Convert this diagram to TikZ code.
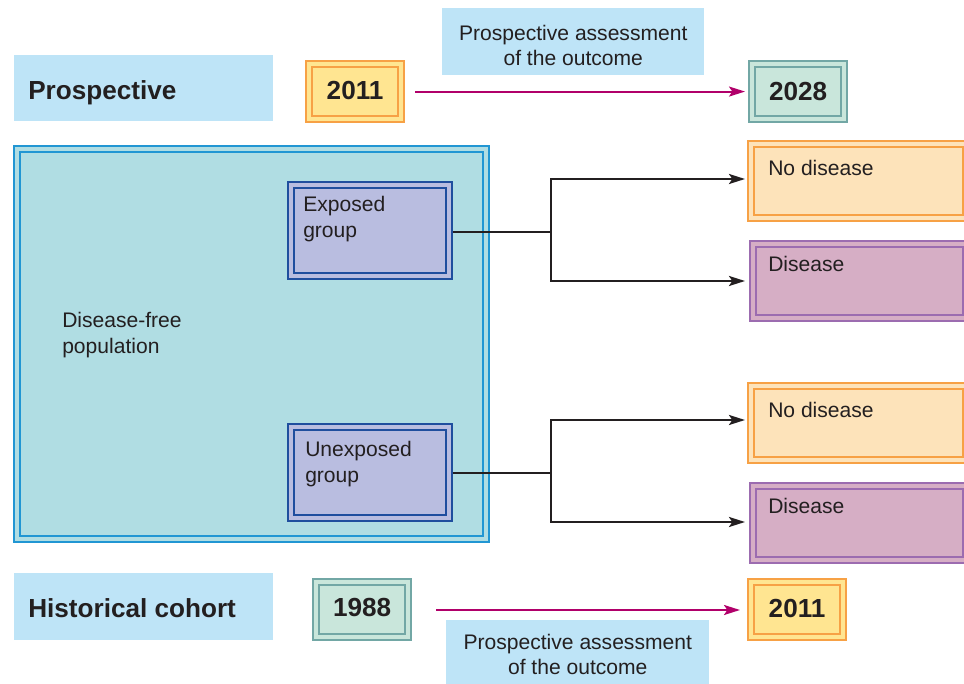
\documentclass[tikz,border=0pt]{standalone}
\usepackage{fontspec}
\setmainfont{Liberation Sans}
\usetikzlibrary{arrows.meta}
\definecolor{lblue}{HTML}{BEE4F7}
\definecolor{orgB}{HTML}{F7A145}
\definecolor{yrF}{HTML}{FFE591}
\definecolor{ndF}{HTML}{FDE3BA}
\definecolor{tealB}{HTML}{72A7A5}
\definecolor{tealF}{HTML}{C9E6DB}
\definecolor{popF}{HTML}{B0DDE3}
\definecolor{popB}{HTML}{2196D3}
\definecolor{grpB}{HTML}{1F4E9E}
\definecolor{grpF}{HTML}{B9BDE0}
\definecolor{purB}{HTML}{9C6CB0}
\definecolor{purF}{HTML}{D6AEC5}
\definecolor{mag}{HTML}{B1006A}
\definecolor{txt}{HTML}{231F20}
\tikzset{
  dbox/.style n args={4}{draw=#1, fill=#2, line width=1.6pt, rectangle, inner sep=0pt,
    minimum width=#3, minimum height=#4, anchor=north west,
    path picture={\draw[#1, line width=0.9pt]
      ([shift={(4.5pt,4.5pt)}]path picture bounding box.south west) rectangle
      ([shift={(-4.5pt,-4.5pt)}]path picture bounding box.north east);}},
  lbl/.style={fill=lblue, rectangle, inner sep=0pt, anchor=north west},
  bigtxt/.style={font=\fontsize{19.6pt}{23pt}\selectfont\bfseries, text=txt, inner sep=0pt},
  smtxt/.style={font=\fontsize{15.8pt}{19.5pt}\selectfont, text=txt, inner sep=0pt, align=left},
  ctrtxt/.style={font=\fontsize{15.8pt}{19pt}\selectfont, text=txt, inner sep=0pt, align=center},
  blk/.style={draw=txt, line width=1.7pt},
  arr/.style={-{Stealth[length=12pt,width=7.5pt,inset=2.5pt]}},
  magarr/.style={draw=mag, line width=1.5pt, -{Stealth[length=12pt,width=7.5pt,inset=2.5pt]}},
}
\begin{document}
\begin{tikzpicture}[x=0.75pt,y=-0.75pt]
\useasboundingbox (0,0) rectangle (964,684);
\clip (0,0) rectangle (964,684);
% top row
\node[lbl, minimum width=259*0.75pt, minimum height=66*0.75pt] (prosp) at (14,55) {};
\node[bigtxt, anchor=west] (prospT) at (28,92.5) {Prospective};
\node[dbox={orgB}{yrF}{98*0.75pt}{61*0.75pt}] (y2011a) at (305,60) {};
\node[bigtxt] at ([yshift=1*0.75pt]y2011a.center) {2011};
\node[lbl, minimum width=262*0.75pt, minimum height=67*0.75pt] (toplab) at (442,8) {};
\node[ctrtxt] at ([yshift=-3.5*0.75pt]toplab.center) {Prospective assessment\\of the outcome};
\node[dbox={tealB}{tealF}{98*0.75pt}{61*0.75pt}] (y2028) at (748,60) {};
\node[bigtxt] at (y2028.center) {2028};
\draw[magarr] ([xshift=10*0.75pt]y2011a.east) -- ([xshift=-3*0.75pt]y2028.west);
% population
\node[dbox={popB}{popF}{475*0.75pt}{396*0.75pt}] (pop) at (13,145) {};
\node[smtxt, anchor=west] at (62,335) {Disease-free\\population};
\node[dbox={grpB}{grpF}{164*0.75pt}{97*0.75pt}] (exp) at (287,181) {};
\node[smtxt, anchor=west] at (303,219) {Exposed\\group};
\node[dbox={grpB}{grpF}{164*0.75pt}{97*0.75pt}] (unexp) at (287,423) {};
\node[smtxt, anchor=west] at (305,464) {Unexposed\\group};
% outcome boxes
\node[dbox={orgB}{ndF}{221*0.75pt}{80*0.75pt}] (nd1) at (747,140) {};
\node[smtxt, anchor=west] at (768,168) {No disease};
\node[dbox={purB}{purF}{219*0.75pt}{80*0.75pt}] (d1) at (749,240) {};
\node[smtxt, anchor=west] at (768,264) {Disease};
\node[dbox={orgB}{ndF}{221*0.75pt}{80*0.75pt}] (nd2) at (747,382) {};
\node[smtxt, anchor=west] at (768,410) {No disease};
\node[dbox={purB}{purF}{219*0.75pt}{80*0.75pt}] (d2) at (749,482) {};
\node[smtxt, anchor=west] at (768,506) {Disease};
% connectors
\coordinate (j1) at (551,232);
\coordinate (j2) at (551,473);
\draw[blk] (exp.east |- j1) -- (j1);
\draw[blk, arr] (j1) |- ([xshift=-2*0.75pt]nd1.west |- 0,179);
\draw[blk, arr] (j1) |- ([xshift=-4*0.75pt]d1.west |- 0,281);
\draw[blk] (unexp.east |- j2) -- (j2);
\draw[blk, arr] (j2) |- ([xshift=-2*0.75pt]nd2.west |- 0,420);
\draw[blk, arr] (j2) |- ([xshift=-4*0.75pt]d2.west |- 0,522);
% bottom row
\node[lbl, minimum width=259*0.75pt, minimum height=67*0.75pt] (hist) at (14,573) {};
\node[bigtxt, anchor=west] at (28,608) {Historical cohort};
\node[dbox={tealB}{tealF}{98*0.75pt}{61*0.75pt}] (y1988) at (312,578) {};
\node[bigtxt] at ([yshift=2*0.75pt]y1988.center) {1988};
\node[dbox={orgB}{yrF}{98*0.75pt}{61*0.75pt}] (y2011b) at (747,578) {};
\node[bigtxt] at ([yshift=1*0.75pt]y2011b.center) {2011};
\draw[magarr] ([xshift=24*0.75pt]y1988.east |- 0,610) -- ([xshift=-7*0.75pt]y2011b.west |- 0,610);
\node[lbl, minimum width=263*0.75pt, minimum height=64*0.75pt] (botlab) at (446,620) {};
\node[ctrtxt] at ([yshift=-2.5*0.75pt]botlab.center) {Prospective assessment\\of the outcome};
\end{tikzpicture}
\end{document}
